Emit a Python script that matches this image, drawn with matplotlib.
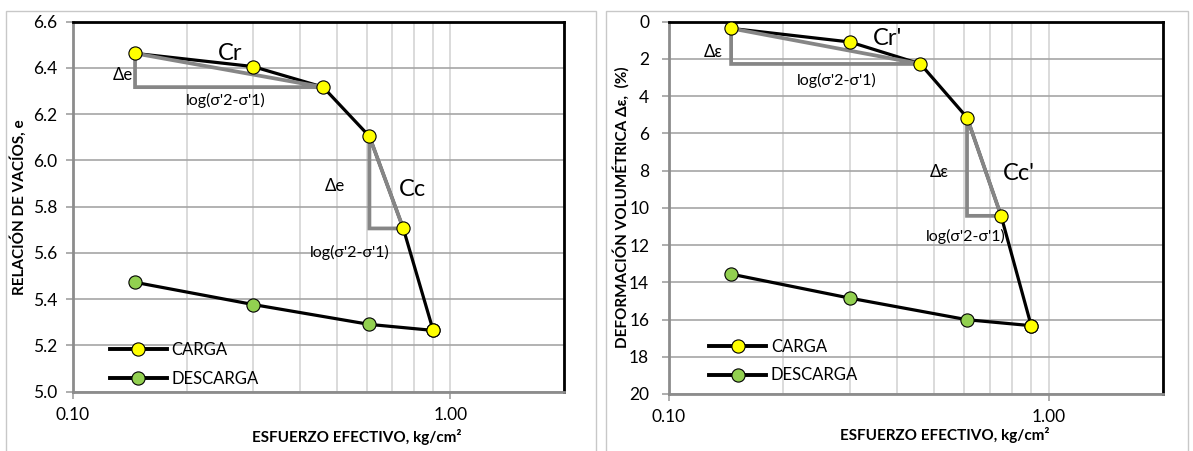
import matplotlib.pyplot as plt
from matplotlib.lines import Line2D
from matplotlib.patches import Rectangle
from matplotlib.ticker import FixedLocator, FixedFormatter, NullFormatter

plt.rcParams['font.family'] = ['Lato', 'DejaVu Sans']

# esfuerzo efectivo (kg/cm2)
esfuerzo_carga = [0.146, 0.30, 0.46, 0.61, 0.75, 0.90]
esfuerzo_descarga = [0.90, 0.61, 0.30, 0.146]

# relacion de vacios
e_carga = [6.463, 6.406, 6.317, 6.104, 5.706, 5.265]
e_descarga = [5.265, 5.291, 5.377, 5.473]

# deformacion volumetrica (%)
def_carga = [0.36, 1.09, 2.27, 5.15, 10.43, 16.33]
def_descarga = [16.33, 16.01, 14.85, 13.56]

x_ticks = [0.1, 1.0]
x_ticklabels = ['0.10', '1.00']
x_minor = [0.2, 0.3, 0.4, 0.5, 0.6, 0.7, 0.8, 0.9, 2.0]

YELLOW = '#ffff00'
GREEN = '#92d050'
GRAY = '#868686'

fig = plt.figure(figsize=(11.93, 4.51), dpi=100)

# marcos de cada grafico
fig.patches.append(Rectangle((6 / 1193, -0.1), 590 / 1193, 1.1 - 11 / 451,
                             transform=fig.transFigure, fill=False,
                             edgecolor='#c8c8c8', lw=1))
fig.patches.append(Rectangle((606 / 1193, -0.1), 582 / 1193, 1.1 - 11 / 451,
                             transform=fig.transFigure, fill=False,
                             edgecolor='#c8c8c8', lw=1))


def triangulo(ax, yc, i, j):
    x0, y0 = esfuerzo_carga[i], yc[i]
    x1, y1 = esfuerzo_carga[j], yc[j]
    ax.plot([x0, x0, x1, x0], [y0, y1, y1, y0], color=GRAY, lw=2.7,
            solid_joinstyle='miter', zorder=4)


def panel(ax, yc, yd, ylim, yticks, yticklabels, ypad):
    ax.set_xscale('log')
    ax.set_xlim(0.1, 2.0)
    ax.set_ylim(*ylim)
    ax.xaxis.set_major_locator(FixedLocator(x_ticks))
    ax.xaxis.set_major_formatter(FixedFormatter(x_ticklabels))
    ax.xaxis.set_minor_locator(FixedLocator(x_minor))
    ax.xaxis.set_minor_formatter(NullFormatter())
    ax.set_yticks(yticks)
    ax.set_yticklabels(yticklabels)
    ax.tick_params(which='major', direction='out', length=5, width=1.2,
                   color='#a0a0a0', labelsize=12.5)
    ax.tick_params(axis='x', pad=6)
    ax.tick_params(axis='y', pad=ypad)
    ax.tick_params(which='minor', length=0)
    ax.grid(True, axis='y', which='major', color='#a6a6a6', lw=1.2)
    ax.grid(True, axis='x', which='both', color='#d4d4d4', lw=1.2)
    ax.set_axisbelow(True)
    for s in ['top', 'right']:
        ax.spines[s].set_color('black')
        ax.spines[s].set_linewidth(2)
    for s in ['left', 'bottom']:
        ax.spines[s].set_color('#8c8c8c')
        ax.spines[s].set_linewidth(2)

    ax.plot(esfuerzo_descarga, yd, color='black', lw=2.3, zorder=3)
    ax.plot(esfuerzo_descarga, yd, 'o', ms=9.5, mfc=GREEN, mec='black',
            mew=0.8, zorder=5)
    ax.plot(esfuerzo_carga, yc, color='black', lw=2.3, zorder=3)
    ax.plot(esfuerzo_carga, yc, 'o', ms=9.5, mfc=YELLOW, mec='black',
            mew=0.8, zorder=6)
    triangulo(ax, yc, 0, 2)
    triangulo(ax, yc, 3, 4)

    handles = [
        Line2D([], [], color='black', lw=2.8, marker='o', ms=9.5, mfc=YELLOW,
               mec='black', mew=0.8),
        Line2D([], [], color='black', lw=2.8, marker='o', ms=9.5, mfc=GREEN,
               mec='black', mew=0.8),
    ]
    return handles


# relacion de vacios vs esfuerzo
ax1 = fig.add_axes([0.0612, 0.1315, 0.4116, 0.8204])
h = panel(ax1, e_carga, e_descarga, (5.0, 6.6),
          [5.0, 5.2, 5.4, 5.6, 5.8, 6.0, 6.2, 6.4, 6.6],
          ['5.0', '5.2', '5.4', '5.6', '5.8', '6.0', '6.2', '6.4', '6.6'], 6)
ax1.legend(h, ['CARGA', 'DESCARGA'], loc='center left',
           bbox_to_anchor=(0.075, 0.074), frameon=False, borderpad=0,
           borderaxespad=0, handlelength=3.4, handletextpad=0.3,
           labelspacing=0.75, fontsize=12)
ax1.set_ylabel('RELACIÓN DE VACÍOS, e', fontsize=11, fontweight='bold')
ax1.yaxis.set_label_coords(-0.094, 0.5)
ax1.set_xlabel('ESFUERZO EFECTIVO, kg/cm²', fontsize=11, fontweight='bold')
ax1.xaxis.set_label_coords(0.578, -0.1)

ax1.text(0.261, 6.463, 'Cr', fontsize=17, ha='center', va='center', zorder=7)
ax1.text(0.1355, 6.37, 'Δe', fontsize=12, ha='center', va='center')
ax1.text(0.2535, 6.258, "log(σ'2-σ'1)", fontsize=11.5, ha='center', va='center')
ax1.text(0.495, 5.891, 'Δe', fontsize=12, ha='center', va='center')
ax1.text(0.791, 5.873, 'Cc', fontsize=17, ha='center', va='center')
ax1.text(0.54, 5.60, "log(σ'2-σ'1)", fontsize=11.5, ha='center', va='center')

# deformacion volumetrica vs esfuerzo
ax2 = fig.add_axes([0.5605, 0.1264, 0.4143, 0.8255])
h = panel(ax2, def_carga, def_descarga, (20, 0), list(range(0, 21, 2)),
          [str(v) for v in range(0, 21, 2)], 9)
ax2.legend(h, ['CARGA', 'DESCARGA'], loc='center left',
           bbox_to_anchor=(0.082, 0.088), frameon=False, borderpad=0,
           borderaxespad=0, handlelength=3.4, handletextpad=0.3,
           labelspacing=0.75, fontsize=12)
ax2.set_ylabel('DEFORMACIÓN VOLUMÉTRICA Δε,  (%)', fontsize=11,
               fontweight='bold')
ax2.yaxis.set_label_coords(-0.080, 0.503)
ax2.set_xlabel('ESFUERZO EFECTIVO, kg/cm²', fontsize=11, fontweight='bold')
ax2.xaxis.set_label_coords(0.559, -0.089)

ax2.text(0.376, 0.89, "Cr'", fontsize=17, ha='center', va='center', zorder=7)
ax2.text(0.1307, 1.61, 'Δε', fontsize=12, ha='center', va='center')
ax2.text(0.277, 3.18, "log(σ'2-σ'1)", fontsize=11.5, ha='center', va='center')
ax2.text(0.514, 8.05, 'Δε', fontsize=12, ha='center', va='center')
ax2.text(0.835, 8.14, "Cc'", fontsize=17, ha='center', va='center')
ax2.text(0.604, 11.54, "log(σ'2-σ'1)", fontsize=11.5, ha='center', va='center')

fig.savefig('out.png', dpi=100)
